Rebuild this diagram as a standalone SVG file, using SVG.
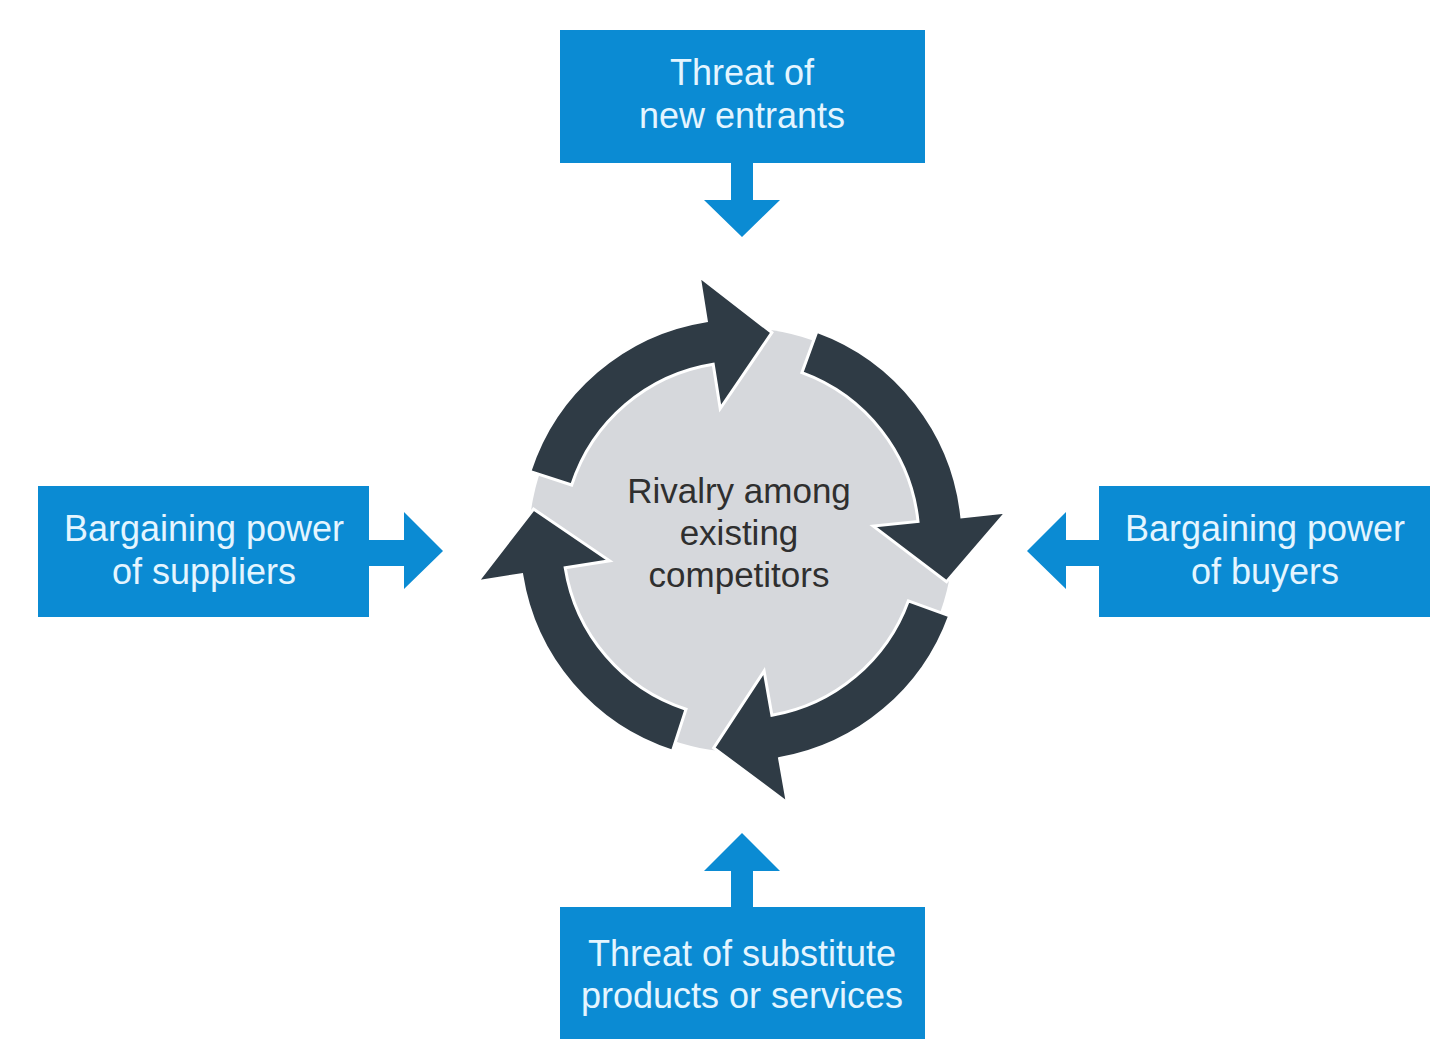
<svg xmlns="http://www.w3.org/2000/svg" width="1435" height="1048" viewBox="0 0 1435 1048">
<style>
.box{fill:#0b8bd3}
.bt{font-family:"Liberation Sans",Arial,sans-serif;font-size:36px;fill:#e4f5ff;text-anchor:middle}
.ct{font-family:"Liberation Sans",Arial,sans-serif;font-size:35px;fill:#2f2f2f;text-anchor:middle}
.ba{fill:#0b8bd3}
.ring{fill:#2f3b45;stroke:#ffffff;stroke-width:3;stroke-linejoin:miter}
</style>
<rect width="1435" height="1048" fill="#ffffff"/>
<g id="rivalry">
<circle cx="741" cy="540" r="212" fill="#d6d8dc"/>
<text class="ct" x="739" y="503">Rivalry among</text>
<text class="ct" x="739" y="545">existing</text>
<text class="ct" x="739" y="587">competitors</text>
</g>
<g id="cycle-arrows">
<path class="ring" d="M529.9,471.4 A222,222 0 0 1 706.3,320.7 L699.2,276.3 L771.9,332.6 L720.2,408.6 L713.2,364.2 A178,178 0 0 0 571.7,485.0 Z"/>
<path class="ring" d="M816.9,331.4 A222,222 0 0 1 961.8,516.8 L1006.5,512.1 L946.5,581.8 L873.3,526.1 L918.0,521.4 A178,178 0 0 0 801.9,372.7 Z"/>
<path class="ring" d="M949.6,615.9 A222,222 0 0 1 779.6,758.6 L787.4,802.9 L713.7,747.9 L764.1,671.0 L771.9,715.3 A178,178 0 0 0 908.3,600.9 Z"/>
<path class="ring" d="M672.4,751.1 A222,222 0 0 1 521.7,574.7 L477.3,581.8 L533.6,509.1 L609.6,560.8 L565.2,567.8 A178,178 0 0 0 686.0,709.3 Z"/>
</g>
<g id="new-entrants">
<rect class="box" x="560" y="30" width="365" height="133"/>
<text class="bt" x="742" y="85">Threat of</text>
<text class="bt" x="742" y="128">new entrants</text>
</g>
<g id="suppliers">
<rect class="box" x="38" y="486" width="331" height="131"/>
<text class="bt" x="204" y="541">Bargaining power</text>
<text class="bt" x="204" y="584">of suppliers</text>
</g>
<g id="buyers">
<rect class="box" x="1099" y="486" width="331" height="131"/>
<text class="bt" x="1265" y="541">Bargaining power</text>
<text class="bt" x="1265" y="584">of buyers</text>
</g>
<g id="substitutes">
<rect class="box" x="560" y="907" width="365" height="132"/>
<text class="bt" x="742" y="966">Threat of substitute</text>
<text class="bt" x="742" y="1008">products or services</text>
</g>
<g id="connectors">
<polygon class="ba" points="731,162 753,162 753,200 780,200 742,237 704,200 731,200"/>
<polygon class="ba" points="369,540 404,540 404,512 443,551 404,589 404,566 369,566"/>
<polygon class="ba" points="1099,540 1066,540 1066,512 1027,551 1066,589 1066,566 1099,566"/>
<polygon class="ba" points="731,907 753,907 753,871 780,871 742,833 704,871 731,871"/>
</g>
</svg>
